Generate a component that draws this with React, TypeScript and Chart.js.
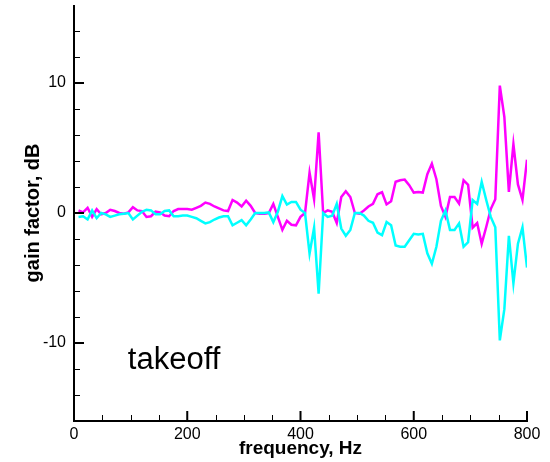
import React, { useEffect, useRef } from "react";
import { Chart, registerables } from "chart.js";

Chart.register(...registerables);

// frequency grid, Hz
const FREQ: number[] = [
  8, 16, 24, 32, 40, 48, 56, 64, 72, 80,
  88, 96, 104, 112, 120, 128, 136, 144, 152, 160,
  168, 176, 184, 192, 200, 208, 216, 224, 232, 240,
  248, 256, 264, 272, 280, 288, 296, 304, 312, 320,
  328, 336, 344, 352, 360, 368, 376, 384, 392, 400,
  408, 416, 424, 432, 440, 448, 456, 464, 472, 480,
  488, 496, 504, 512, 520, 528, 536, 544, 552, 560,
  568, 576, 584, 592, 600, 608, 616, 624, 632, 640,
  648, 656, 664, 672, 680, 688, 696, 704, 712, 720,
  728, 736, 744, 752, 760, 768, 776, 784, 792, 800,
];

// gain factor, dB (magenta curve)
const MAGENTA: number[] = [
  0.2, 0.05, 0.4, -0.3, 0.3, -0.1, 0.0, 0.25, 0.15, 0.0,
  -0.05, 0.05, 0.45, 0.2, 0.15, -0.3, -0.25, 0.1, 0.05, -0.2,
  -0.25, 0.15, 0.3, 0.3, 0.3, 0.25, 0.4, 0.55, 0.8, 0.7,
  0.5, 0.35, 0.2, 0.15, 1.0, 0.8, 0.5, 0.95, 0.55, 0.0,
  -0.05, -0.05, 0.0, 0.7, -0.3, -1.3, -0.6, -0.9, -0.95, -0.3,
  0.0, 3.1, 1.06, 6.2, 0.0, 0.2, 0.1, -0.77, 1.23, 1.67,
  1.23, 0.0, -0.05, 0.2, 0.5, 0.7, 1.44, 1.6, 0.66, 0.9,
  2.4, 2.52, 2.57, 2.14, 1.57, 1.62, 1.57, 2.98, 3.8, 2.6,
  0.55, -0.3, 1.23, 1.23, 0.72, 2.52, 2.16, -1.13, -0.77, -2.36,
  -1.08, 0.3, 1.06, 9.8, 7.4, 1.62, 5.3, 2.2, 1.0, 4.1,
];

// gain factor, dB (cyan curve)
const CYAN: number[] = [
  -0.3, -0.25, -0.5, 0.2, -0.4, 0.0, -0.1, -0.3, -0.2, -0.1,
  -0.05, 0.0, -0.5, -0.2, 0.1, 0.25, 0.2, -0.1, -0.1, 0.15,
  0.2, -0.25, -0.25, -0.2, -0.2, -0.3, -0.4, -0.6, -0.8, -0.7,
  -0.5, -0.35, -0.25, -0.25, -0.95, -0.75, -0.55, -0.95, -0.5, 0.0,
  0.0, 0.0, 0.05, -0.7, 0.1, 1.3, 0.65, 0.85, 0.85, 0.25,
  0.0, -3.13, -1.13, -6.2, 0.0, -0.3, -0.2, 0.7, -1.2, -1.75,
  -1.3, 0.0, 0.0, -0.2, -0.6, -0.75, -1.5, -1.7, -0.7, -0.95,
  -2.5, -2.6, -2.6, -2.1, -1.6, -1.65, -1.6, -3.1, -3.9, -2.6,
  -0.6, 0.2, -1.3, -1.3, -0.8, -2.6, -2.25, 1.0, 0.7, 2.4,
  1.0, -0.3, -1.1, -9.8, -7.4, -1.75, -5.4, -2.36, -1.1, -4.2,
];

const X_MAJOR: number[] = [0, 200, 400, 600, 800];
const X_MINOR: number[] = [50, 100, 150, 250, 300, 350, 450, 500, 550, 650, 700, 750];
const Y_MAJOR: number[] = [-10, 0, 10];
const Y_MINOR: number[] = [-14, -12, -8, -6, -4, -2, 2, 4, 6, 8, 12, 14];
const X_LIMITS: number[] = [0, 800];
const Y_LIMITS: number[] = [-16, 16];

const LABEL_TEXT = "takeoff";
const LABEL_AT: number[] = [95, -12];

const FONT = "'Liberation Sans', Arial, Helvetica, sans-serif";

const axesPlugin = {
  id: "tecplotAxes",
  afterDraw(chart: any) {
    const { ctx, chartArea, scales } = chart;
    const xs = scales.x;
    const ys = scales.y;
    const left = chartArea.left;
    const bottom = chartArea.bottom;
    ctx.save();
    ctx.strokeStyle = "#000";
    ctx.lineCap = "butt";
    // axis lines
    ctx.lineWidth = 2;
    ctx.beginPath();
    ctx.moveTo(left, chartArea.top);
    ctx.lineTo(left, bottom + 1);
    ctx.moveTo(left - 1, bottom);
    ctx.lineTo(chartArea.right + 1, bottom);
    ctx.stroke();
    // major ticks
    ctx.lineWidth = 2;
    ctx.beginPath();
    for (const v of X_MAJOR) {
      const px = xs.getPixelForValue(v);
      ctx.moveTo(px, bottom);
      ctx.lineTo(px, bottom - 10);
    }
    for (const v of Y_MAJOR) {
      const py = ys.getPixelForValue(v);
      ctx.moveTo(left, py);
      ctx.lineTo(left + 10, py);
    }
    ctx.stroke();
    // minor ticks
    ctx.lineWidth = 1;
    ctx.beginPath();
    for (const v of X_MINOR) {
      const px = Math.round(xs.getPixelForValue(v)) + 0.5;
      ctx.moveTo(px, bottom);
      ctx.lineTo(px, bottom - 6);
    }
    for (const v of Y_MINOR) {
      const py = Math.round(ys.getPixelForValue(v)) + 0.5;
      ctx.moveTo(left, py);
      ctx.lineTo(left + 6, py);
    }
    ctx.stroke();
    // annotation text
    ctx.fillStyle = "#000";
    ctx.font = `31px ${FONT}`;
    ctx.textAlign = "left";
    ctx.textBaseline = "alphabetic";
    ctx.fillText(
      LABEL_TEXT,
      xs.getPixelForValue(LABEL_AT[0]),
      ys.getPixelForValue(LABEL_AT[1])
    );
    ctx.restore();
  },
};

export default function App() {
  const canvasRef = useRef<HTMLCanvasElement | null>(null);

  useEffect(() => {
    document.body.style.margin = "0";
    const canvas = canvasRef.current;
    if (!canvas) return;
    const chart = new Chart(canvas, {
      type: "line",
      data: {
        datasets: [
          {
            label: "cyan",
            data: FREQ.map((f, i) => ({ x: f, y: CYAN[i] })),
            borderColor: "#00ffff",
            borderWidth: 2.5,
            pointRadius: 0,
            tension: 0,
            fill: false,
          },
          {
            label: "magenta",
            data: FREQ.map((f, i) => ({ x: f, y: MAGENTA[i] })),
            borderColor: "#ff00ff",
            borderWidth: 2.5,
            pointRadius: 0,
            tension: 0,
            fill: false,
          },
        ],
      },
      plugins: [axesPlugin],
      options: {
        animation: false,
        responsive: false,
        devicePixelRatio: 1,
        layout: { padding: { top: 5, right: 23, left: 0, bottom: 0 } },
        plugins: {
          legend: { display: false },
          tooltip: { enabled: false },
        },
        scales: {
          x: {
            type: "linear",
            min: X_LIMITS[0],
            max: X_LIMITS[1],
            afterFit: (s: any) => {
              s.height = 41;
              s.paddingLeft = 0;
              s.paddingRight = 0;
            },
            grid: { display: false, drawTicks: false },
            border: { display: false },
            ticks: {
              stepSize: 200,
              padding: 4,
              color: "#000",
              font: { family: FONT, size: 16 },
              maxRotation: 0,
              autoSkip: false,
            },
            title: {
              display: true,
              text: "frequency, Hz",
              color: "#000",
              font: { family: FONT, size: 19, weight: "bold" },
              padding: { top: 0, bottom: 2 },
            },
          },
          y: {
            type: "linear",
            min: Y_LIMITS[0],
            max: Y_LIMITS[1],
            afterFit: (s: any) => {
              s.width = 74;
              s.paddingTop = 0;
              s.paddingBottom = 0;
            },
            grid: { display: false, drawTicks: false },
            border: { display: false },
            ticks: {
              stepSize: 2,
              padding: 8,
              color: "#000",
              font: { family: FONT, size: 16 },
              autoSkip: false,
              callback: (v: any) => (Y_MAJOR.includes(Number(v)) ? String(v) : ""),
            },
            title: {
              display: true,
              text: "gain factor, dB",
              color: "#000",
              font: { family: FONT, size: 20, weight: "bold" },
              padding: { top: 21, bottom: 0 },
            },
          },
        },
      },
    });
    return () => chart.destroy();
  }, []);

  return (
    <div style={{ width: 550, height: 462 }}>
      <canvas ref={canvasRef} width={550} height={462} />
    </div>
  );
}
